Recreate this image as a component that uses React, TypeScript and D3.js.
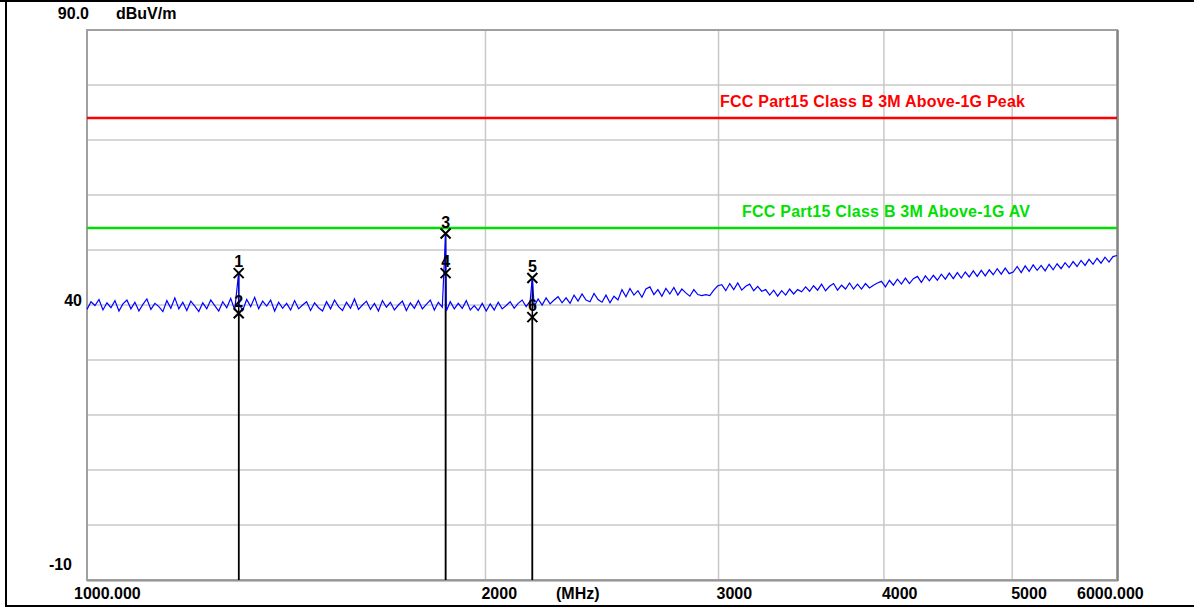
import React from "react";
import * as d3 from "d3";

// ---------- data ----------
const FREQ_START = 1000;
const FREQ_STOP = 6000;
const LEVEL_MIN = -10;
const LEVEL_MAX = 90;

const gridLevels = [0, 10, 20, 30, 40, 50, 60, 70, 80];
const gridFreqs = [2000, 3000, 4000, 5000];

const xTickFreqs = [1000, 2000, 3000, 4000, 5000, 6000];
const xTickLabels = ["1000.000", "2000", "3000", "4000", "5000", "6000.000"];
const yTickLevels = [90, 40, -10];
const yTickLabels = ["90.0", "40", "-10"];
const unitLabel = "dBuV/m";
const freqUnitLabel = "(MHz)";

const limitNames = [
  "FCC Part15 Class B 3M Above-1G Peak",
  "FCC Part15 Class B 3M Above-1G AV",
];
const limitLevels = [74, 54];

// sweep trace (dBuV/m), points evenly spread over the log sweep 1000-6000 MHz
const traceLevels = [
  39.2, 40.6, 39.9, 41.0, 39.1, 40.4, 39.5, 40.8, 38.9, 40.2,
  40.9, 39.3, 40.5, 38.9, 40.1, 41.1, 39.2, 40.3, 39.7, 38.8,
  40.8, 39.4, 41.3, 39.3, 40.5, 39.0, 40.7, 39.8, 38.8, 40.4,
  39.3, 40.9, 39.9, 38.9, 40.6, 39.5, 41.2, 39.1, 40.3, 39.0,
  41.0, 39.7, 41.4, 39.3, 40.7, 39.8, 40.9, 38.9, 40.5, 39.4,
  40.3, 39.1, 40.8, 39.3, 40.0, 40.6, 39.0, 40.4, 39.5, 38.9,
  40.6, 39.3, 40.9, 39.7, 39.0, 40.5, 39.4, 41.1, 39.2, 40.0,
  40.7, 39.2, 40.3, 38.9, 40.8, 39.6, 40.5, 39.1, 40.0, 40.7,
  39.0, 40.4, 39.4, 40.8, 39.3, 40.1, 40.9, 39.1, 40.5, 39.6,
  38.9, 40.6, 39.3, 40.3, 39.4, 40.8, 39.1, 39.9, 39.0, 40.3,
  38.9, 40.2, 39.1, 40.5, 39.3, 39.9, 40.6, 39.4, 40.3, 40.9, 39.7,
  40.7, 39.7, 41.1, 40.0, 41.3, 40.2, 40.9, 41.5, 40.4, 41.3, 40.3, 41.8, 40.7, 42.0, 40.9, 40.6, 42.1, 41.0,
  40.5, 41.8, 40.4, 41.6, 40.9,
  42.8, 41.5, 43.0, 41.8, 42.6, 41.4, 42.9, 43.3, 41.9, 42.8, 41.6, 43.0, 42.0, 43.2, 41.8, 42.9, 42.2, 41.6, 42.8, 41.9, 41.7,
  41.9, 41.7, 42.7, 43.5,
  43.7, 42.6, 43.9, 42.8, 44.0, 42.7, 43.4, 43.8, 42.6, 43.4, 42.5,
  42.8, 41.8, 42.7, 41.6, 42.6, 41.8, 42.9, 42.0, 42.8,
  42.4, 43.3, 42.5, 43.5, 42.7, 43.8, 42.6, 43.4, 43.9, 42.7, 43.6, 42.9, 44.0, 42.9, 43.8, 42.9, 43.9, 43.1, 43.6, 44.0,
  44.3, 43.3, 44.5, 43.6, 44.7, 43.8, 44.9, 43.9, 44.8, 45.2, 44.1, 45.3, 44.4, 45.4,
  44.5, 45.6, 44.7, 45.8, 44.8, 45.9, 44.9, 46.0, 45.1, 46.2, 45.2, 46.3, 45.3, 46.4, 45.5, 46.6, 45.6, 46.7, 45.7,
  46.0, 47.0, 45.9, 47.1, 46.1, 47.3, 46.3, 47.2, 46.2, 47.4, 46.4, 47.5,
  46.6, 47.7, 46.8, 47.9, 47.0, 48.1, 47.2, 48.3, 47.4, 48.5, 47.6, 48.7, 47.8, 48.8, 49.0,
];

// emission spikes in the trace
const spikeFreqs = [1302, 1866, 2170];
const spikeLevels = [46.0, 53.0, 45.1];

// markers
const markerIds = ["1", "2", "3", "4", "5", "6"];
const markerFreqs = [1302, 1302, 1866, 1866, 2170, 2170];
const markerLevels = [45.8, 38.5, 53.0, 45.8, 44.9, 37.8];

// ---------- layout / style ----------
const W = 1194;
const H = 608;
const PLOT = { left: 87, right: 1117, top: 30, bottom: 580 };
const FONT = "'Liberation Sans', Arial, sans-serif";
const limitColors = ["#ff0000", "#00e000"];
const limitLabelX = [720, 742];
const limitLabelLen = [305, 288];
const xLabelDx = [-13, -4, -2, -2, -1, -40];
const yLabelRight = [89, 82, 72];
const yLabelDy = [-11, 1, -10];

export default function App() {
  const x = d3.scaleLog().domain([FREQ_START, FREQ_STOP]).range([PLOT.left, PLOT.right]);
  const y = d3.scaleLinear().domain([LEVEL_MIN, LEVEL_MAX]).range([PLOT.bottom, PLOT.top]);

  const n = traceLevels.length;
  const pts: [number, number][] = traceLevels.map((v, i) => [
    FREQ_START * Math.pow(FREQ_STOP / FREQ_START, i / (n - 1)),
    v,
  ]);
  spikeFreqs.forEach((f, i) => pts.push([f, spikeLevels[i]]));
  pts.sort((a, b) => a[0] - b[0]);

  const line = d3
    .line<[number, number]>()
    .x((d) => x(d[0]))
    .y((d) => y(d[1]));

  return (
    <svg
      width={W}
      height={H}
      style={{ position: "absolute", left: 0, top: 0, background: "#fff" }}
      fontFamily={FONT}
    >
      <rect x={0} y={0} width={W} height={H} fill="#fff" />
      {/* outer frame */}
      <line x1={0} y1={1} x2={W} y2={1} stroke="#000" strokeWidth={2} />
      <line x1={6} y1={0} x2={6} y2={607} stroke="#000" strokeWidth={2} />
      <line x1={5} y1={606} x2={W} y2={606} stroke="#000" strokeWidth={2} />

      {/* grid */}
      {gridLevels.map((v) => (
        <line key={"h" + v} x1={PLOT.left} x2={PLOT.right} y1={y(v)} y2={y(v)} stroke="#c8c8c8" strokeWidth={1.5} />
      ))}
      {gridFreqs.map((f) => (
        <line key={"v" + f} x1={x(f)} x2={x(f)} y1={PLOT.top} y2={PLOT.bottom} stroke="#c8c8c8" strokeWidth={1.5} />
      ))}

      {/* plot frame */}
      <rect
        x={PLOT.left}
        y={PLOT.top}
        width={PLOT.right - PLOT.left}
        height={PLOT.bottom - PLOT.top}
        fill="none"
        stroke="#a0a0a0"
        strokeWidth={2}
      />
      <line x1={PLOT.right + 1} x2={PLOT.right + 1} y1={PLOT.top} y2={PLOT.bottom + 1} stroke="#7a7a7a" strokeWidth={1.5} />
      <line x1={PLOT.left} x2={PLOT.right + 1} y1={PLOT.bottom + 1} y2={PLOT.bottom + 1} stroke="#8a8a8a" strokeWidth={1} />

      {/* limit lines */}
      {limitLevels.map((v, i) => (
        <g key={"lim" + i}>
          <line x1={PLOT.left} x2={PLOT.right} y1={y(v)} y2={y(v)} stroke={limitColors[i]} strokeWidth={2.5} />
          <text
            x={limitLabelX[i]}
            y={y(v) - 11}
            fill={limitColors[i]}
            fontSize={16}
            fontWeight="bold"
            textLength={limitLabelLen[i]}
            lengthAdjust="spacing"
          >
            {limitNames[i]}
          </text>
        </g>
      ))}

      {/* marker stems */}
      {markerFreqs.map((f, i) => (
        <line key={"ms" + i} x1={x(f)} x2={x(f)} y1={y(markerLevels[i])} y2={PLOT.bottom} stroke="#000" strokeWidth={1.5} />
      ))}

      {/* trace */}
      <path d={line(pts) || ""} fill="none" stroke="#0000ff" strokeWidth={1.2} />

      {/* markers */}
      {markerFreqs.map((f, i) => {
        const cx = x(f);
        const cy = y(markerLevels[i]);
        return (
          <g key={"mk" + i}>
            <path
              d={`M${cx - 5},${cy - 5}L${cx + 5},${cy + 5}M${cx + 5},${cy - 5}L${cx - 5},${cy + 5}`}
              stroke="#000"
              strokeWidth={2}
              fill="none"
            />
            <text x={cx} y={cy - 6} textAnchor="middle" fontSize={16} fontWeight="bold" fill="#000">
              {markerIds[i]}
            </text>
          </g>
        );
      })}

      {/* y labels */}
      {yTickLevels.map((v, i) => (
        <text key={"yl" + i} x={yLabelRight[i]} y={y(v) + yLabelDy[i]} textAnchor="end" fontSize={16} fontWeight="bold" fill="#000">
          {yTickLabels[i]}
        </text>
      ))}
      <text x={116} y={y(LEVEL_MAX) - 11} fontSize={16} fontWeight="bold" fill="#000">
        {unitLabel}
      </text>

      {/* x labels */}
      {xTickFreqs.map((f, i) => (
        <text key={"xl" + i} x={x(f) + xLabelDx[i]} y={599} fontSize={16} fontWeight="bold" fill="#000">
          {xTickLabels[i]}
        </text>
      ))}
      <text x={556} y={599} fontSize={16} fontWeight="bold" fill="#000">
        {freqUnitLabel}
      </text>
    </svg>
  );
}
